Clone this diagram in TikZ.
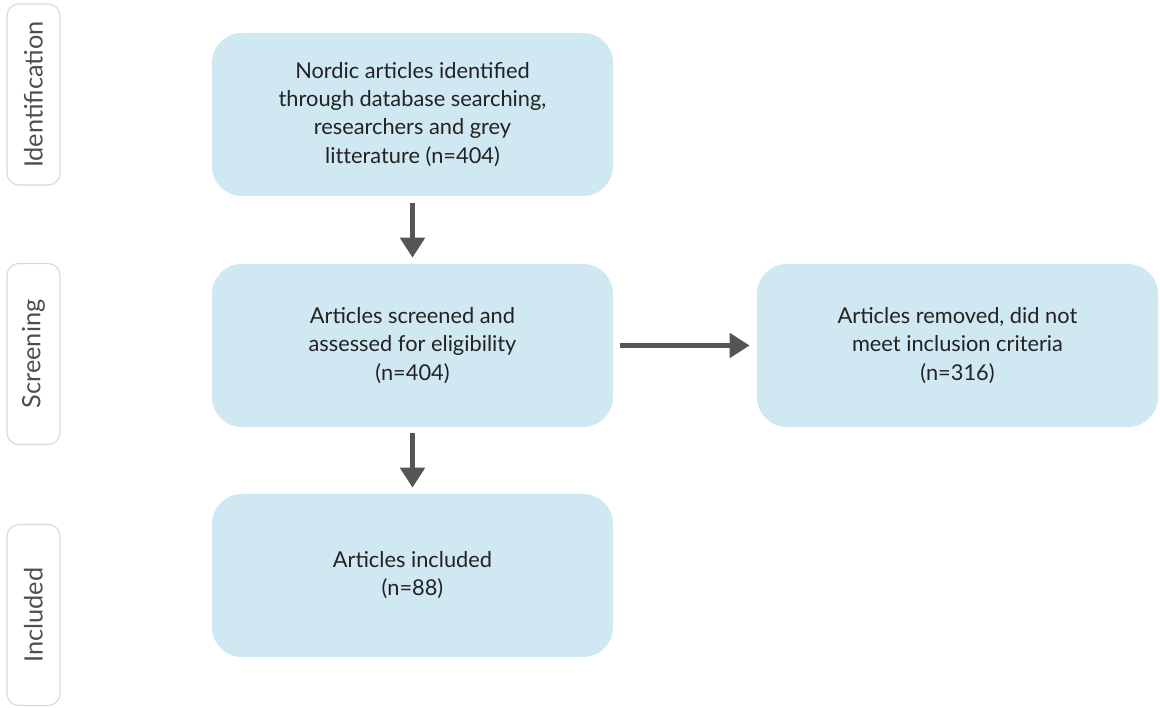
\documentclass[tikz,border=0pt]{standalone}
\usepackage{fontspec}
\setmainfont{Lato}
\usetikzlibrary{arrows.meta, positioning}
\definecolor{boxblue}{HTML}{D0E8F2}
\definecolor{arrowgrey}{HTML}{555555}
\definecolor{stageline}{HTML}{D8D8D8}
\definecolor{textdark}{HTML}{222222}

\begin{document}
\begin{tikzpicture}[x=0.025cm, y=-0.025cm,
    >={Triangle[width=0.6cm, length=0.5cm]},
    stepbox/.style={fill=boxblue, rounded corners=0.75cm, minimum width=10.025cm,
        minimum height=4.075cm, align=center, text=textdark,
        font=\fontsize{15.5}{20}\selectfont},
    stagebox/.style={draw=stageline, line width=0.8pt, rounded corners=0.3cm, rotate=90,
        minimum width=4.525cm, minimum height=1.325cm, text=textdark!80,
        font=\fontsize{18}{20}\selectfont},
    flow/.style={->, arrowgrey, line width=0.125cm}]
    \useasboundingbox (0,0) rectangle (1160,708);

    % stages on the left
    \node[stagebox] (identlabel) at (33.5, 94.5) {Identification};
    \node[stagebox] (screenlabel) at (33.5, 354) {Screening};
    \node[stagebox] (inclabel) at (33.5, 615) {Included};

    % the flow boxes
    \node[stepbox] (identified) at (412.5, 114.5) {Nordic articles identified\\through database searching,\\researchers and grey\\lit\kern0pt terature (n=404)};
    \node[stepbox] (screened) at (412.5, 345.5) {Articles screened and\\assessed for eligibility\\(n=404)};
    \node[stepbox] (removed) at (957.5, 345.5) {Articles removed, did not\\meet inclusion criteria\\(n=316)};
    \node[stepbox] (included) at (412.5, 575.5) {Articles included\\(n=88)};

    \draw[flow, shorten <=0.175cm, shorten >=0.15cm] (identified) -- (screened);
    \draw[flow, shorten <=0.175cm, shorten >=0.175cm] (screened) -- (removed);
    \draw[flow, shorten <=0.15cm, shorten >=0.15cm] (screened) -- (included);
\end{tikzpicture}
\end{document}
